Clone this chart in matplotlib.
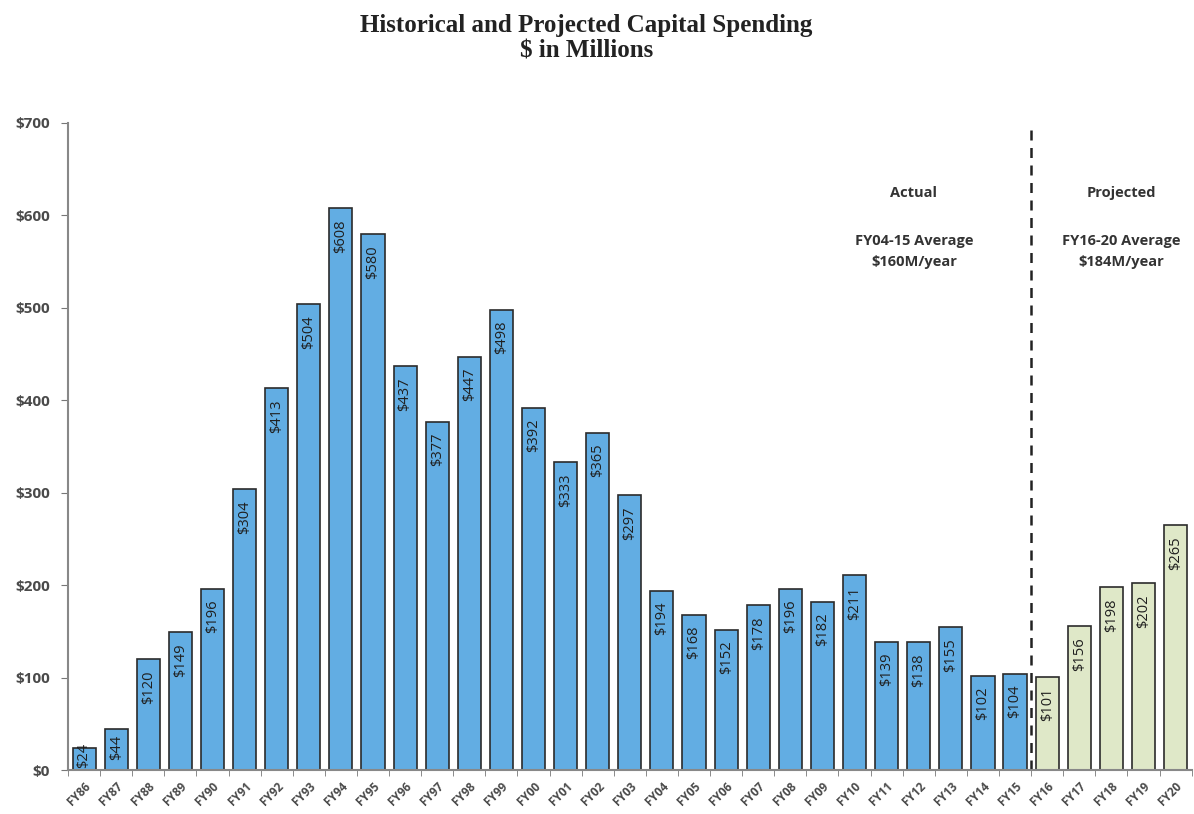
import matplotlib
matplotlib.use("Agg")
import matplotlib.pyplot as plt
import numpy as np

years = ["FY86", "FY87", "FY88", "FY89", "FY90", "FY91", "FY92", "FY93", "FY94", "FY95",
         "FY96", "FY97", "FY98", "FY99", "FY00", "FY01", "FY02", "FY03", "FY04", "FY05",
         "FY06", "FY07", "FY08", "FY09", "FY10", "FY11", "FY12", "FY13", "FY14", "FY15",
         "FY16", "FY17", "FY18", "FY19", "FY20"]
spending = [24, 44, 120, 149, 196, 304, 413, 504, 608, 580,
            437, 377, 447, 498, 392, 333, 365, 297, 194, 168,
            152, 178, 196, 182, 211, 139, 138, 155, 102, 104,
            101, 156, 198, 202, 265]
n_actual = 30  # FY86-FY15 actual, FY16-FY20 projected
yticks = [0, 100, 200, 300, 400, 500, 600, 700]

fig = plt.figure(figsize=(11.94, 8.14), dpi=100)
ax = fig.add_axes([0.057, 0.054, 0.941, 0.795])

x = np.arange(len(years))
colors = ["#62ade3" if i < n_actual else "#dfe8c8" for i in range(len(years))]
ax.bar(x, spending, width=0.72, color=colors, edgecolor="#2b2b2b", linewidth=1.2)

lkw = dict(rotation=90, ha="center", fontsize=10.5, color="#1f1f1f", family="Open Sans")
for xi, v in zip(x, spending):
    if v < 40:
        ax.text(xi, 2, f"${v}", va="bottom", **lkw)
    elif v < 60:
        ax.text(xi, v - 6, f"${v}", va="top", **lkw)
    else:
        ax.text(xi, v - 12, f"${v}", va="top", **lkw)

ax.set_xlim(-0.5, len(years) - 0.5)
ax.set_ylim(0, 700)
ax.set_yticks(yticks)
ax.set_yticklabels([f"${t}" for t in yticks], fontsize=11, color="#4a4a4a",
                   family="Open Sans", fontweight="bold")
ax.set_xticks(x)
ax.set_xticklabels(years, rotation=45, ha="right", rotation_mode="anchor",
                   fontsize=8.5, color="#4a4a4a", family="Open Sans", fontweight="bold")
ax.tick_params(axis="x", which="major", length=0, pad=7)
ax.set_xticks(np.arange(-0.5, len(years), 1), minor=True)
ax.tick_params(axis="x", which="minor", length=4, color="#777777")
ax.tick_params(axis="y", length=5, color="#777777", pad=8)

for s in ["top", "right"]:
    ax.spines[s].set_visible(False)
for s in ["left", "bottom"]:
    ax.spines[s].set_color("#888888")
    ax.spines[s].set_linewidth(1.5)

ax.axvline(n_actual - 0.5, ymin=0, ymax=0.995, color="#222222", linestyle=(0, (4, 3)), linewidth=1.8)

tkw = dict(ha="center", va="center", fontsize=10.5, color="#333333",
           family="Open Sans", fontweight="bold")
ax.text(25.85, 624, "Actual", **tkw)
ax.text(25.85, 561, "FY04-15 Average\n$160M/year", linespacing=1.6, **tkw)
ax.text(32.3, 624, "Projected", **tkw)
ax.text(32.3, 561, "FY16-20 Average\n$184M/year", linespacing=1.6, **tkw)

fig.text(0.491, 0.953, "Historical and Projected Capital Spending\n$ in Millions",
         ha="center", va="center", fontsize=18, fontweight="bold",
         family="Liberation Serif", color="#222222", linespacing=1.1)

fig.savefig("out.png", dpi=100)
